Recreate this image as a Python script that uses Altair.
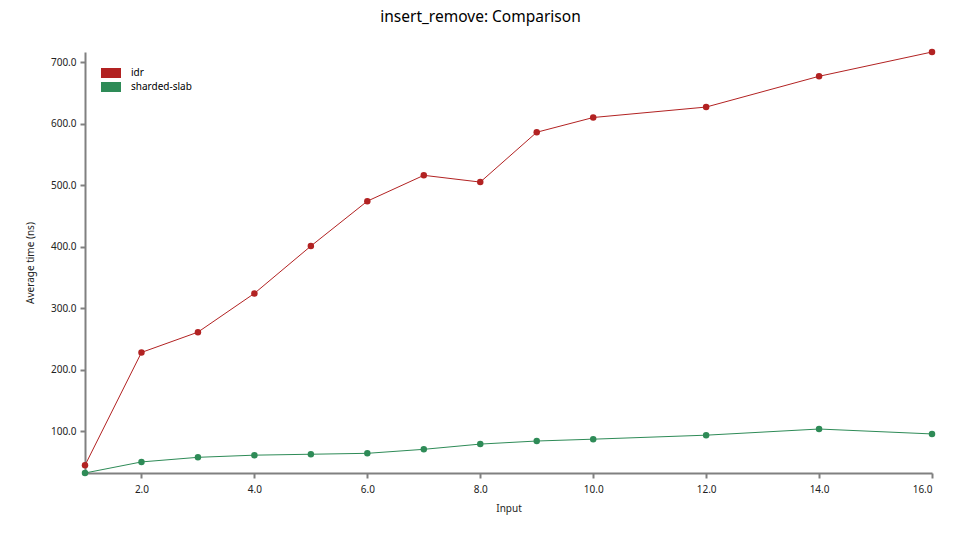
import altair as alt
import pandas as pd

inputs = [1, 2, 3, 4, 5, 6, 7, 8, 9, 10, 12, 14, 16]
idr = [44.5, 228, 261, 324, 401, 474, 516, 505, 586, 610, 627, 677, 716.5]
sharded_slab = [32, 50, 57.5, 61, 62.5, 64, 70.5, 79, 84, 87, 93.5, 103.5, 95.5]
series = ["idr", "sharded-slab"]
colors = ["#b22222", "#2e8b57"]
x_ticks = [2, 4, 6, 8, 10, 12, 14, 16]
y_ticks = [100, 200, 300, 400, 500, 600, 700]

rows = []
for x, v in zip(inputs, idr):
    rows.append({"Input": x, "time": v, "series": "idr"})
for x, v in zip(inputs, sharded_slab):
    rows.append({"Input": x, "time": v, "series": "sharded-slab"})
df = pd.DataFrame(rows)

font = "Noto Sans"
x = alt.X("Input:Q", scale=alt.Scale(domain=[1, 16], nice=False, zero=False),
          axis=alt.Axis(values=x_ticks, format=".1f", title="Input", grid=False,
                        titlePadding=9, labelPadding=6))
y = alt.Y("time:Q", scale=alt.Scale(domain=[min(sharded_slab), max(idr)], nice=False, zero=False),
          axis=alt.Axis(values=y_ticks, format=".1f", title="Average time (ns)", grid=False,
                        titlePadding=15, labelPadding=4))
legend = alt.Legend(title=None, orient="none", legendX=16, legendY=16,
                    symbolType="M-2,-1H2V1H-2Z", symbolSize=100,
                    symbolOpacity=1, symbolStrokeWidth=0,
                    labelOffset=15, rowPadding=4, labelFontSize=10,
                    labelFont=font, symbolOffset=5)
color = alt.Color("series:N", scale=alt.Scale(domain=series, range=colors), legend=legend)

lines = alt.Chart(df).mark_line(strokeWidth=1).encode(x=x, y=y, color=color)
points = alt.Chart(df).mark_circle(size=42, opacity=1).encode(x=x, y=y, color=color)

chart = alt.layer(lines, points).properties(
    width=847, height=421,
    title=alt.Title("insert_remove: Comparison", fontSize=15.5, fontWeight="normal", font=font,
                    offset=23, dx=-28),
    autosize=alt.AutoSizeParams(type="none"),
    padding={"left": 77, "top": 44, "right": 20, "bottom": 55},
).configure_view(stroke=None).configure_axis(
    domainColor="#808080", domainWidth=2, tickColor="#808080", tickWidth=2, tickSize=5,
    labelFont=font, titleFont=font, labelFontSize=10, titleFontSize=10,
    titleFontWeight="normal", labelColor="#222", titleColor="#222"
)

chart.save("out.html", embed_options={"renderer": "svg", "actions": False})
